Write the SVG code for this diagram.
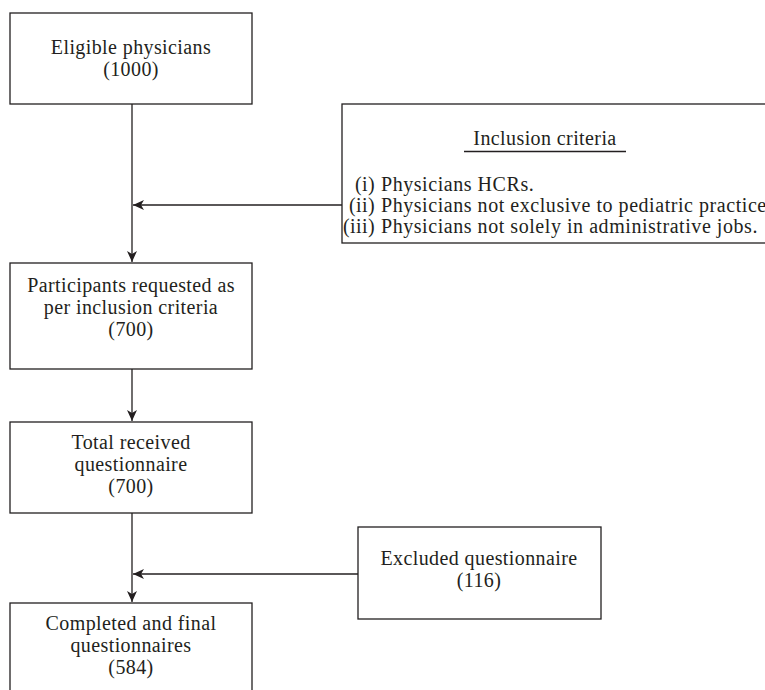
<svg xmlns="http://www.w3.org/2000/svg" width="765" height="690" viewBox="0 0 765 690">
<style>
.box{fill:#fff;stroke:#231f20;stroke-width:1.3}
.t{font-family:"Liberation Serif","Times New Roman",serif;font-size:20px;letter-spacing:0.4px;fill:#231f20;text-anchor:middle}
.s{text-anchor:start;letter-spacing:0.55px}
.e{text-anchor:end}
.c{stroke:#231f20;stroke-width:1.3;fill:none}
</style>
<defs>
<marker id="ah" markerWidth="12" markerHeight="10" refX="11" refY="5" orient="auto" markerUnits="userSpaceOnUse">
<path d="M0,0 L11,5 L0,10 L3,5 Z" fill="#231f20"/>
</marker>
</defs>
<rect width="765" height="690" fill="#fff"/>
<g id="connectors">
<line class="c" x1="132" y1="104" x2="132" y2="262" marker-end="url(#ah)"/>
<line class="c" x1="342" y1="205" x2="133" y2="205" marker-end="url(#ah)"/>
<line class="c" x1="132" y1="369" x2="132" y2="421" marker-end="url(#ah)"/>
<line class="c" x1="132" y1="513" x2="132" y2="602" marker-end="url(#ah)"/>
<line class="c" x1="358" y1="574" x2="133" y2="574" marker-end="url(#ah)"/>
</g>
<g id="eligible">
<rect class="box" x="10" y="13" width="242" height="91"/>
<text class="t" x="131" y="54">Eligible physicians</text>
<text class="t" x="131" y="76">(1000)</text>
</g>
<g id="inclusion">
<rect class="box" x="342" y="104" width="440" height="139"/>
<text class="t" x="545" y="145">Inclusion criteria</text>
<line class="c" x1="464" y1="151.5" x2="626" y2="151.5"/>
<text class="t e" x="375" y="191">(i)</text>
<text class="t s" x="381" y="191">Physicians HCRs.</text>
<text class="t e" x="375" y="212">(ii)</text>
<text class="t s" x="381" y="212">Physicians not exclusive to pediatric practice</text>
<text class="t e" x="375" y="233">(iii)</text>
<text class="t s" x="381" y="233">Physicians not solely in administrative jobs.</text>
</g>
<g id="participants">
<rect class="box" x="10" y="263" width="242" height="106"/>
<text class="t" x="131" y="292">Participants requested as</text>
<text class="t" x="131" y="314">per inclusion criteria</text>
<text class="t" x="131" y="336">(700)</text>
</g>
<g id="received">
<rect class="box" x="10" y="422" width="242" height="91"/>
<text class="t" x="131" y="449">Total received</text>
<text class="t" x="131" y="471">questionnaire</text>
<text class="t" x="131" y="493">(700)</text>
</g>
<g id="excluded">
<rect class="box" x="358" y="527" width="243" height="92"/>
<text class="t" x="479" y="565">Excluded questionnaire</text>
<text class="t" x="479" y="587">(116)</text>
</g>
<g id="completed">
<rect class="box" x="10" y="603" width="242" height="100"/>
<text class="t" x="131" y="630">Completed and final</text>
<text class="t" x="131" y="652">questionnaires</text>
<text class="t" x="131" y="674">(584)</text>
</g>
</svg>
